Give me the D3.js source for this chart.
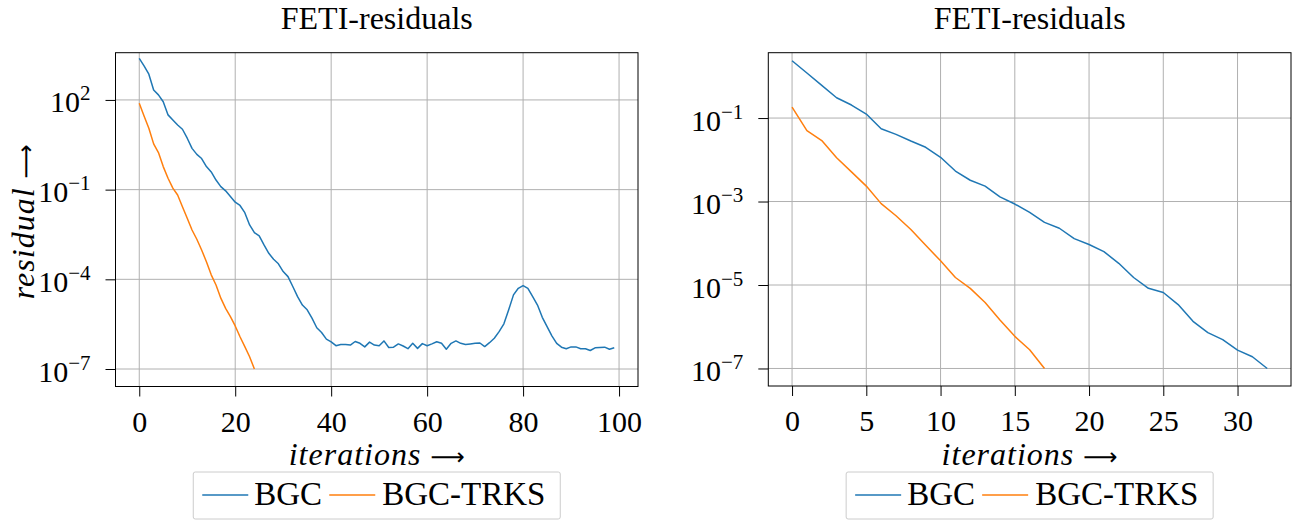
<!DOCTYPE html>
<html>
<head>
<meta charset="utf-8">
<script src="https://cdn.jsdelivr.net/npm/d3@7.9.0/dist/d3.min.js"></script>
<style>
  html, body { margin: 0; padding: 0; background: #fff; }
  svg { display: block; }
</style>
</head>
<body>
<div id="chart"></div>
<script>
// residuals, stored as log10 exponents
const leftBgcLog = [
  3.39, 3.14, 2.86, 2.33, 2.17, 1.94, 1.50, 1.33, 1.16, 1.02,
  0.72, 0.38, 0.18, 0.04, -0.23, -0.41, -0.68, -0.90, -1.04, -1.23,
  -1.42, -1.53, -1.77, -2.18, -2.44, -2.55, -2.85, -3.13, -3.33, -3.48,
  -3.74, -3.91, -4.24, -4.58, -4.86, -5.02, -5.30, -5.62, -5.78, -6.00,
  -6.09, -6.22, -6.18, -6.18, -6.20, -6.08, -6.14, -6.26, -6.10, -6.20,
  -6.22, -6.06, -6.28, -6.27, -6.16, -6.23, -6.32, -6.14, -6.31, -6.15,
  -6.22, -6.16, -6.09, -6.14, -6.34, -6.14, -6.06, -6.14, -6.18, -6.16,
  -6.14, -6.13, -6.25, -6.12, -5.97, -5.75, -5.49, -5.02, -4.52, -4.30,
  -4.21, -4.30, -4.58, -4.86, -5.27, -5.58, -5.89, -6.14, -6.27, -6.32,
  -6.26, -6.26, -6.32, -6.32, -6.38, -6.29, -6.28, -6.27, -6.34, -6.29
];
const leftTrksLog = [
  1.89, 1.46, 1.05, 0.53, 0.24, -0.23, -0.62, -0.95, -1.18, -1.57,
  -1.96, -2.35, -2.66, -3.02, -3.41, -3.85, -4.19, -4.63, -4.97, -5.25,
  -5.56, -5.92, -6.25, -6.59, -7.00
];
const rightBgcLog = [
  0.374, 0.079, -0.216, -0.513, -0.688, -0.904, -1.256, -1.39, -1.55, -1.70,
  -1.94, -2.27, -2.49, -2.63, -2.89, -3.06, -3.26, -3.50, -3.64, -3.89,
  -4.03, -4.20, -4.48, -4.82, -5.08, -5.18, -5.47, -5.87, -6.14, -6.31,
  -6.56, -6.72, -7.00
];
const rightTrksLog = [
  -0.736, -1.30, -1.54, -1.95, -2.29, -2.63, -3.05, -3.34, -3.67, -4.05,
  -4.42, -4.82, -5.08, -5.42, -5.84, -6.23, -6.55, -7.00
];

const seriesNames = ['BGC', 'BGC-TRKS'];
const leftXTicks = [0, 20, 40, 60, 80, 100];
const leftYTicks = [2, -1, -4, -7];       // exponents
const rightXTicks = [0, 5, 10, 15, 20, 25, 30];
const rightYTicks = [-1, -3, -5, -7];
const titleText = 'FETI-residuals';

// ---- style ----
const COLORS = ['#1f77b4', '#ff7f0e'];
const GRID = '#b0b0b0';
const FONT = '"Liberation Serif", "DejaVu Serif", serif';
const ARROW_FONT = '"DejaVu Sans", sans-serif';
const W = 1301, H = 523;

const svg = d3.select('#chart').append('svg')
  .attr('width', W).attr('height', H)
  .attr('viewBox', `0 0 ${W} ${H}`)
  .style('font-family', FONT);

function panel(opts) {
  const { left, right, top, bottom, xDomain, yExp, xTicks, yTicks, series, yLabel } = opts;
  const x = d3.scaleLinear().domain(xDomain).range([left, right]);
  const y = d3.scaleLog().domain([Math.pow(10, yExp[0]), Math.pow(10, yExp[1])]).range([bottom, top]);
  const g = svg.append('g');

  // grid
  g.append('g')
    .selectAll('line').data(xTicks).join('line')
    .attr('x1', d => x(d)).attr('x2', d => x(d))
    .attr('y1', top).attr('y2', bottom)
    .attr('stroke', GRID).attr('stroke-width', 1);
  g.append('g')
    .selectAll('line').data(yTicks).join('line')
    .attr('x1', left).attr('x2', right)
    .attr('y1', d => y(Math.pow(10, d))).attr('y2', d => y(Math.pow(10, d)))
    .attr('stroke', GRID).attr('stroke-width', 1);

  // lines
  const line = d3.line()
    .x((d, i) => x(i))
    .y(d => y(Math.pow(10, d)));
  series.forEach((s, k) => {
    g.append('path')
      .datum(s)
      .attr('d', line)
      .attr('fill', 'none')
      .attr('stroke', COLORS[k])
      .attr('stroke-width', 1.5)
      .attr('stroke-linejoin', 'round');
  });

  // frame
  g.append('rect')
    .attr('x', left).attr('y', top)
    .attr('width', right - left).attr('height', bottom - top)
    .attr('fill', 'none').attr('stroke', '#000').attr('stroke-width', 1);

  // x axis
  const xAxis = g.append('g')
    .attr('transform', `translate(0,${bottom})`)
    .call(d3.axisBottom(x).tickValues(xTicks).tickSize(10).tickPadding(6).tickFormat(d3.format('d')));
  xAxis.select('.domain').remove();
  xAxis.selectAll('line').attr('stroke', '#000');
  xAxis.selectAll('text')
    .attr('font-family', FONT).attr('font-size', 30).attr('fill', '#000')
    .attr('dy', null).attr('y', 45);

  // y axis
  const yAxis = g.append('g')
    .attr('transform', `translate(${left},0)`)
    .call(d3.axisLeft(y).tickValues(yTicks.map(e => Math.pow(10, e))).tickSize(10).tickFormat(''));
  yAxis.select('.domain').remove();
  yAxis.selectAll('line').attr('stroke', '#000');
  yAxis.selectAll('.tick').each(function (d) {
    const e = Math.round(Math.log10(d));
    const t = d3.select(this).append('text')
      .attr('x', -25).attr('y', 12)
      .attr('text-anchor', 'end')
      .attr('fill', '#000')
      .attr('font-family', FONT).attr('font-size', 30);
    t.append('tspan').text('10');
    t.append('tspan').attr('dy', -12).attr('font-size', 21)
      .text(e < 0 ? '\u2212' + (-e) : String(e));
  });

  const cx = (left + right) / 2;

  // title
  g.append('text')
    .attr('x', cx).attr('y', 29)
    .attr('text-anchor', 'middle')
    .attr('font-size', 32)
    .text(titleText);

  // x label
  const xl = g.append('text')
    .attr('x', cx).attr('y', 465)
    .attr('text-anchor', 'middle')
    .attr('font-size', 32);
  xl.append('tspan').attr('font-style', 'italic').attr('letter-spacing', 1).text('iterations ');
  xl.append('tspan').attr('font-family', ARROW_FONT).attr('font-size', 24).text('\u27F6');

  if (yLabel) {
    const yl = g.append('text')
      .attr('transform', `translate(34,${(top + bottom) / 2 + 2}) rotate(-90)`)
      .attr('text-anchor', 'middle')
      .attr('font-size', 32);
    yl.append('tspan').attr('font-style', 'italic').attr('letter-spacing', 1).text('residual ');
    yl.append('tspan').attr('font-family', ARROW_FONT).attr('font-size', 24).text('\u27F6');
  }

  // legend
  const lw = 367, lx = cx - lw / 2, ly = 472;
  const leg = g.append('g').attr('transform', `translate(${lx},${ly})`);
  leg.append('rect')
    .attr('width', lw).attr('height', 47).attr('rx', 2)
    .attr('fill', '#fff').attr('stroke', '#cccccc').attr('stroke-width', 1);
  const offsets = [[9, 61], [136, 189]];
  seriesNames.forEach((name, k) => {
    leg.append('line')
      .attr('x1', offsets[k][0]).attr('x2', offsets[k][0] + 46)
      .attr('y1', 23).attr('y2', 23)
      .attr('stroke', COLORS[k]).attr('stroke-width', 1.5);
    leg.append('text')
      .attr('x', offsets[k][1]).attr('y', 33)
      .attr('font-size', 33)
      .text(name);
  });
}

panel({
  left: 115.5, right: 638, top: 52.7, bottom: 386.5,
  xDomain: [-4.95, 103.95], yExp: [-7.585, 3.58],
  xTicks: leftXTicks, yTicks: leftYTicks,
  series: [leftBgcLog, leftTrksLog], yLabel: true
});

panel({
  left: 768.3, right: 1291, top: 52.7, bottom: 386,
  xDomain: [-1.6, 33.6], yExp: [-7.42, 0.566],
  xTicks: rightXTicks, yTicks: rightYTicks,
  series: [rightBgcLog, rightTrksLog], yLabel: false
});
</script>
</body>
</html>
